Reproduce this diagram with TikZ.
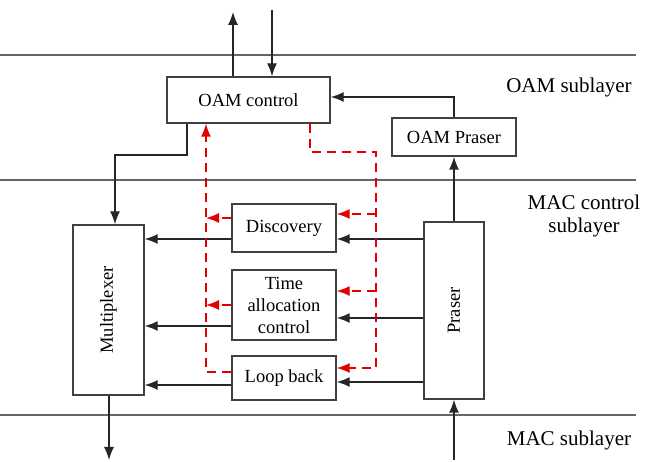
\documentclass[tikz,border=0pt]{standalone}
\usepackage{fontspec}
\setmainfont{Liberation Serif}
\usetikzlibrary{arrows.meta}
\begin{document}
\begin{tikzpicture}[x=1pt,y=-1pt,
  box/.style={draw=black!75,line width=1.4pt,inner sep=0pt,align=center,font=\fontsize{18.5}{22}\selectfont},
  layer/.style={draw=black!60,line width=1.4pt},
  arr/.style={draw=black!85,line width=1.4pt,-{Latex[length=13pt,width=10pt]}},
  rarr/.style={draw=red!90!black,line width=1.4pt,dash pattern=on 9pt off 6pt,-{Latex[length=13pt,width=10pt]}},
  lbl/.style={font=\fontsize{21}{23}\selectfont,align=center}]
\useasboundingbox (0,0) rectangle (646,462);
% layer lines
\draw[layer] (0,55) -- (636,55);
\draw[layer] (0,180) -- (636,180);
\draw[layer] (0,415) -- (636,415);
% boxes
\node[box,minimum width=163pt,minimum height=46pt] (oam) at (248.5,100) {OAM control};
\node[box,minimum width=124pt,minimum height=38pt] (oamp) at (454,137) {OAM Praser};
\node[box,minimum width=71pt,minimum height=170pt] (mux) at (108.5,310) {};
\node[rotate=90,font=\fontsize{18.5}{20.5}\selectfont] (muxt) at (mux.center) {Multiplexer};
\node[box,minimum width=104pt,minimum height=48pt] (disc) at (284,228) {Discovery};
\node[box,minimum width=104pt,minimum height=70pt] (time) at (284,305) {Time\\allocation\\control};
\node[box,minimum width=104pt,minimum height=44pt] (loop) at (284,378) {Loop back};
\node[box,minimum width=60pt,minimum height=177pt] (praser) at (454,310.5) {};
\node[rotate=90,font=\fontsize{18.5}{20.5}\selectfont] (prasert) at (praser.center) {Praser};
% labels
\node[lbl] (l1) at (569,87) {OAM sublayer};
\node[lbl] (l2) at (584,216) {MAC control\\sublayer};
\node[lbl] (l3) at (569,440) {MAC sublayer};
% free ends
\coordinate (top1) at (233,12);
\coordinate (top2) at (272,10);
\coordinate (bot1) at (109,460);
\coordinate (bot2) at (454,460);
\coordinate (j1) at (187,155);
% black connectors
\draw[arr] (oam.north -| top1) -- (top1);
\draw[arr] (top2) -- (oam.north -| top2);
\draw[arr] (oamp.north) |- ([yshift=3pt]oam.east);
\draw[arr] (praser.north -| oamp.north) -- (oamp.south);
\draw[arr] (oam.south -| j1) -- (j1) -| ([xshift=6.5pt]mux.north);
\draw[arr] (mux.south -| bot1) -- (bot1);
\draw[arr] (bot2) -- (praser.south);
\draw[arr] ([yshift=-11pt]disc.west) -- ([yshift=-11pt]disc.west -| mux.east);
\draw[arr] ([yshift=-21pt]time.west) -- ([yshift=-21pt]time.west -| mux.east);
\draw[arr] ([yshift=-7pt]loop.west) -- ([yshift=-7pt]loop.west -| mux.east);
\draw[arr] ([yshift=-11pt]disc.east -| praser.west) -- ([yshift=-11pt]disc.east);
\draw[arr] ([yshift=-13pt]time.east -| praser.west) -- ([yshift=-13pt]time.east);
\draw[arr] ([yshift=-4pt]loop.east -| praser.west) -- ([yshift=-4pt]loop.east);
% red dashed connectors
\coordinate (rl) at (206,372);
\coordinate (rr1) at (310,152);
\coordinate (rr2) at (376,152);
\draw[rarr] ([yshift=6pt]loop.west) -| (oam.south -| rl);
\draw[rarr] ([yshift=10pt]disc.west) -- ([yshift=10pt]disc.west -| rl);
\draw[rarr] (time.west) -- (time.west -| rl);
\draw[rarr] (oam.south -| rr1) -- (rr1) -- (rr2) |- ([yshift=10pt]loop.east);
\draw[rarr] ([yshift=14pt]disc.east -| rr2) -- ([yshift=14pt]disc.east);
\draw[rarr] ([yshift=14pt]time.east -| rr2) -- ([yshift=14pt]time.east);
\end{tikzpicture}
\end{document}
